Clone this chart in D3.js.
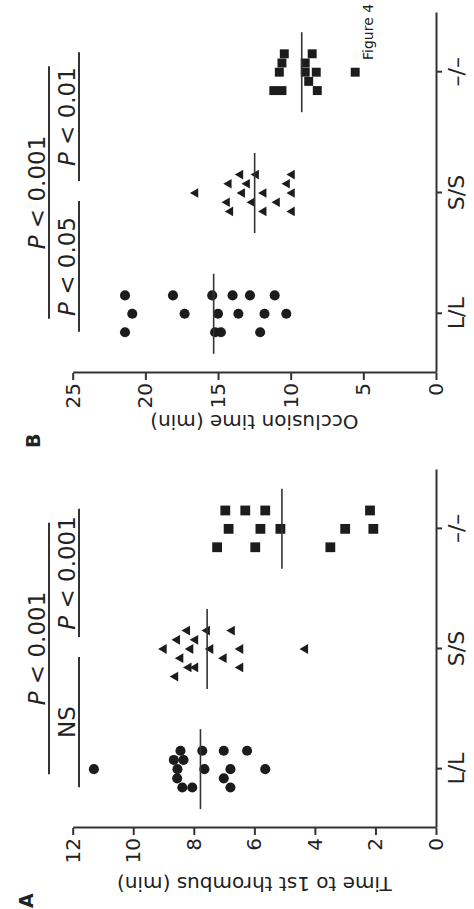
<!DOCTYPE html>
<html>
<head>
<meta charset="utf-8">
<script src="https://cdn.jsdelivr.net/npm/d3@7"></script>
<style>
  html, body { margin: 0; padding: 0; background: #fff; }
  svg { display: block; }
  text { font-family: "DejaVu Sans", "Lato", sans-serif; fill: #222; }
</style>
</head>
<body>
<div id="chart"></div>
<script>
/* === Figure 4: thrombus / occlusion times by genotype (page scanned sideways) === */

const genotypes = ["L/L", "S/S", "\u2013/\u2013"];

// Panel A - time to 1st thrombus (min); [value, swarm column]
const thrombusLL = [[8.44, 2], [7.72, 2], [7.01, 2], [6.24, 2], [8.66, 1], [8.34, 1],
  [11.3, 0], [8.54, 0], [7.65, 0], [6.79, 0], [5.64, 0], [8.55, -1], [7.01, -1],
  [8.38, -2], [8.05, -2], [6.79, -2]];
const thrombusSS = [[8.22, 2], [7.56, 2], [6.74, 2], [8.55, 1], [7.95, 1],
  [8.99, 0], [8.11, 0], [7.45, 0], [6.46, 0], [4.32, 0], [8.44, -1], [7.01, -1],
  [8.17, -2], [7.95, -2], [6.46, -2], [8.61, -3]];
const thrombusKO = [[6.96, 2], [6.30, 2], [5.64, 2], [2.18, 2],
  [6.85, 0], [5.80, 0], [5.14, 0], [3.0, 0], [2.07, 0],
  [7.23, -2], [5.97, -2], [3.49, -2]];
const thrombusMeans = [7.78, 7.56, 5.09];
const thrombusTicks = [0, 2, 4, 6, 8, 10, 12];
const thrombusComps = [["L/L", "\u2013/\u2013", 0, "P < 0.001"], ["L/L", "S/S", 1, "NS"], ["S/S", "\u2013/\u2013", 2, "P < 0.001"]];

// Panel B - occlusion time (min)
const occlusionLL = [[21.4, 2], [18.1, 2], [15.4, 2], [14.0, 2], [12.8, 2], [11.1, 2],
  [20.9, 0], [17.3, 0], [15.0, 0], [13.6, 0], [11.8, 0], [10.3, 0],
  [21.4, -2], [15.2, -2], [14.8, -2], [12.1, -2]];
const occlusionSS = [[13.46, 2], [12.38, 2], [9.91, 2], [14.26, 1], [13.0, 1], [10.25, 1],
  [16.55, 0], [13.34, 0], [11.86, 0], [9.91, 0], [14.38, -1], [12.66, -1], [10.94, -1],
  [14.15, -2], [11.86, -2], [9.91, -2]];
const occlusionKO = [[10.44, 2], [8.52, 2], [10.6, 1], [9.0, 1],
  [10.78, 0], [9.0, 0], [8.24, 0], [5.56, 0], [8.76, -1],
  [11.16, -2], [10.6, -2], [8.17, -2]];
const occlusionMeans = [15.3, 12.48, 9.24];
const occlusionTicks = [0, 5, 10, 15, 20, 25];
const occlusionComps = [["L/L", "\u2013/\u2013", 0, "P < 0.001"], ["L/L", "S/S", 1, "P < 0.05"], ["S/S", "\u2013/\u2013", 2, "P < 0.01"]];

// page is drawn in its own landscape frame, then turned a quarter counter-clockwise
const PW = 909, PH = 474;
const ink = "#1c1c1c";

const svg = d3.select("#chart").append("svg")
  .attr("width", PH)
  .attr("height", PW);

svg.append("rect").attr("width", PH).attr("height", PW).attr("fill", "#fff");

const page = svg.append("g").attr("transform", `translate(0,${PW}) rotate(-90)`);

const symbols = [d3.symbolCircle, d3.symbolTriangle, d3.symbolSquare];

function drawPanel(o) {
  const y = d3.scaleLinear().domain([0, o.yMax]).range([436, 72.7]);
  const x = d3.scalePoint().domain(genotypes).range([o.x0, o.x1]).padding(0.49);
  const colStep = 9.2;
  const p = page.append("g");

  // value axis
  const ya = p.append("g")
    .attr("transform", `translate(${o.x0},0)`)
    .call(d3.axisLeft(y).tickValues(o.ticks).tickSize(7).tickSizeOuter(0).tickPadding(3));
  // category axis
  const xa = p.append("g")
    .attr("transform", "translate(0,436)")
    .call(d3.axisBottom(x).tickSize(6).tickSizeOuter(0).tickPadding(6));

  [ya, xa].forEach(a => {
    a.select(".domain").attr("stroke", "#333").attr("stroke-width", 2);
    a.selectAll(".tick line").attr("stroke", "#333").attr("stroke-width", 2);
    a.selectAll(".tick text").attr("fill", "#222");
  });
  ya.selectAll(".tick text").style("font-size", "20px");
  xa.selectAll(".tick text").style("font-size", "22px");

  // points
  o.series.forEach((pts, i) => {
    const cx = x(genotypes[i]);
    const sym = d3.symbol().type(symbols[i]).size(o.sizes[i]);
    p.append("g").selectAll("path")
      .data(pts)
      .join("path")
        .attr("d", sym)
        .attr("transform", d => `translate(${cx + d[1] * colStep},${y(d[0])})`)
        .attr("fill", ink);
  });

  // mean lines
  p.append("g").selectAll("line")
    .data(o.means)
    .join("line")
      .attr("x1", (d, i) => x(genotypes[i]) - 40)
      .attr("x2", (d, i) => x(genotypes[i]) + 40)
      .attr("y1", d => y(d))
      .attr("y2", d => y(d))
      .attr("stroke", "#333")
      .attr("stroke-width", 1.6);

  // significance bars
  const barY = [49, 79, 79];
  const pad = [[-5, 6], [-18, -8], [12, 20]];
  o.comps.forEach(([a, b, lvl, txt]) => {
    const xa0 = x(a) + pad[lvl][0], xb0 = x(b) + pad[lvl][1];
    p.append("line")
      .attr("x1", xa0).attr("x2", xb0)
      .attr("y1", barY[lvl]).attr("y2", barY[lvl])
      .attr("stroke", "#333").attr("stroke-width", 2);
    const t = p.append("text")
      .attr("x", (xa0 + xb0) / 2)
      .attr("y", barY[lvl] - 4)
      .attr("text-anchor", "middle")
      .style("font-size", "23px");
    if (txt.startsWith("P")) {
      t.append("tspan").style("font-style", "italic").text("P");
      t.append("tspan").text(txt.slice(1));
    } else {
      t.text(txt);
    }
  });

  // axis title
  p.append("text")
    .attr("transform", `translate(${o.titleX},${(72.7 + 436) / 2}) rotate(-90)`)
    .attr("text-anchor", "middle")
    .style("font-size", "20px")
    .text(o.title);

  // panel letter
  p.append("text")
    .attr("x", o.letterX).attr("y", o.letterY)
    .style("font-size", "19px")
    .style("font-weight", "600")
    .text(o.letter);
}

drawPanel({
  x0: 81, x1: 439, yMax: 12, ticks: thrombusTicks,
  series: [thrombusLL, thrombusSS, thrombusKO], means: thrombusMeans,
  sizes: [80, 42, 96], comps: thrombusComps,
  title: "Time to 1st thrombus (min)", titleX: 32,
  letter: "A", letterX: 1, letterY: 33
});

drawPanel({
  x0: 536, x1: 896, yMax: 25, ticks: occlusionTicks,
  series: [occlusionLL, occlusionSS, occlusionKO], means: occlusionMeans,
  sizes: [80, 40, 80], comps: occlusionComps,
  title: "Occlusion time (min)", titleX: 494,
  letter: "B", letterX: 461, letterY: 40
});

page.append("text")
  .attr("x", 849).attr("y", 373)
  .style("font-size", "14px")
  .text("Figure 4");
</script>
</body>
</html>
